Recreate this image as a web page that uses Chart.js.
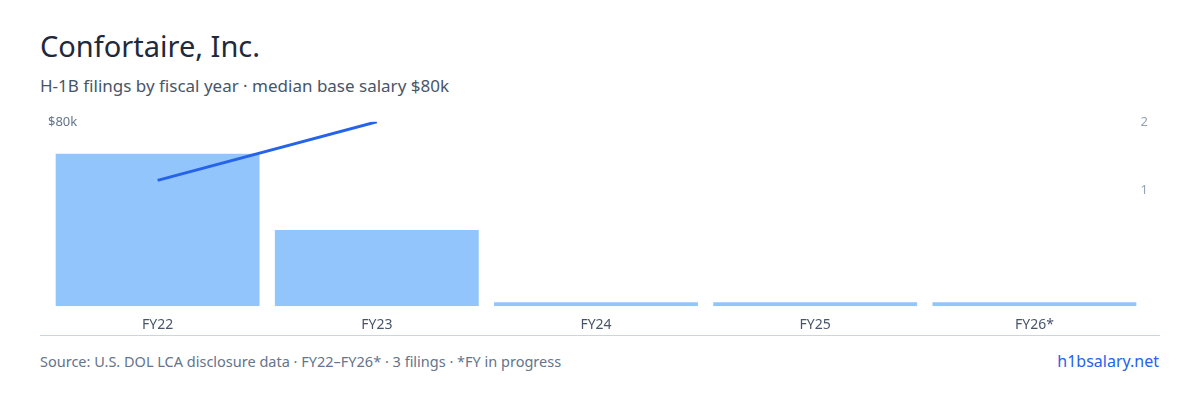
<!DOCTYPE html>
<html><head><meta charset="utf-8">
<script src="https://cdn.jsdelivr.net/npm/chart.js@4"></script>
<style>
body{margin:0;width:1200px;height:400px;background:#fff;font-family:"Noto Sans",sans-serif;position:relative;overflow:hidden}
#t{position:absolute;left:40px;top:26px;font-size:29px;color:#1e293b}
#s{position:absolute;left:40px;top:74px;font-size:17px;color:#475569}
#c{position:absolute;left:40px;top:110px;width:1120px;height:225px}
#b{position:absolute;left:40px;top:335px;width:1120px;border-top:1px solid #cbd5e1}
#f{position:absolute;left:40px;top:351px;font-size:14.5px;color:#64748b}
#r{position:absolute;right:41px;top:350px;font-size:16px;color:#2563eb}
</style></head><body>
<div id="t">Confortaire, Inc.</div>
<div id="s">H-1B filings by fiscal year · median base salary $80k</div>
<div id="c"><canvas id="cv"></canvas></div>
<div id="b"></div>
<div id="f">Source: U.S. DOL LCA disclosure data · FY22–FY26* · 3 filings · *FY in progress</div>
<div id="r">h1bsalary.net</div>
<script>
const categories=["FY22","FY23","FY24","FY25","FY26*"];
const filings=[2,1,0,0,0];
const medianSalaryK=[54.6,80,null,null,null];
new Chart(document.getElementById('cv'),{
 data:{labels:categories,datasets:[
  {type:'line',data:medianSalaryK,yAxisID:'ys',borderColor:'#2563eb',borderWidth:3,pointRadius:0,spanGaps:false,order:0},
  {type:'bar',data:filings,yAxisID:'yb',backgroundColor:'#93c5fd',barPercentage:0.93,categoryPercentage:1,minBarLength:4,order:1}
 ]},
 options:{responsive:true,maintainAspectRatio:false,animation:false,
  layout:{padding:{top:10}},
  plugins:{legend:{display:false},tooltip:{enabled:false}},
  scales:{
   x:{grid:{display:false},border:{display:false},ticks:{color:'#475569',font:{family:'Noto Sans',size:14},padding:2}},
   yb:{display:false,min:0,max:2.42},
   ys:{position:'left',min:0,max:80,grid:{display:false},border:{display:false},
     ticks:{mirror:true,padding:0,stepSize:80,color:'#64748b',font:{family:'Noto Sans',size:13},callback:v=>v===80?'$80k':''}},
   yr:{position:'right',min:-0.7,max:2,grid:{display:false},border:{display:false},
     ticks:{mirror:true,padding:4,stepSize:1,color:'#94a3b8',font:{family:'Noto Sans',size:13},callback:v=>v>=1?String(v):''}}
  }}
});
</script></body></html>
